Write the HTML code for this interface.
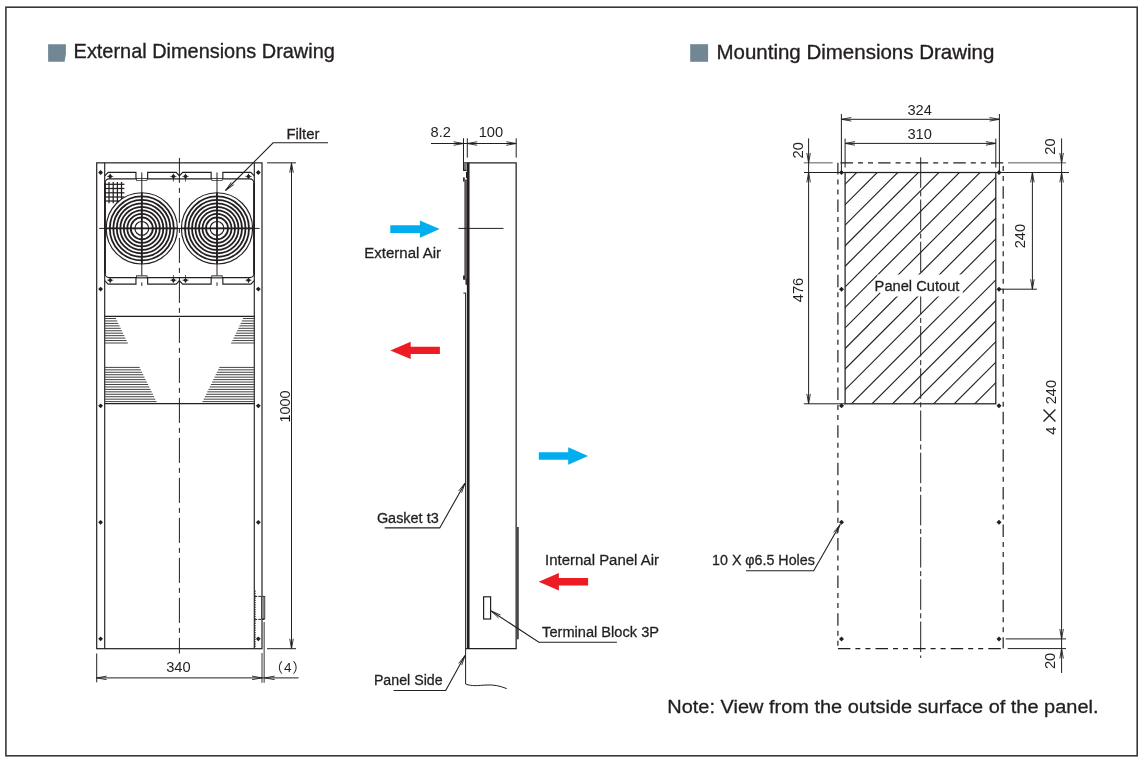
<!DOCTYPE html>
<html lang="en"><head><meta charset="utf-8"><title>Dimensions Drawing</title>
<style>
html,body{margin:0;padding:0;background:#fff;overflow:hidden;}
body{width:1142px;height:763px;overflow:hidden;}
svg{display:block;will-change:transform;}
text{fill:#231f20;}
.lb,.ti{font-family:"Liberation Sans","DejaVu Sans",sans-serif;stroke:#231f20;stroke-width:0.3px;}
.ti{stroke-width:0.35px;}
.dm{font-family:"Liberation Sans","DejaVu Sans",sans-serif;}
.cj{font-family:"Liberation Sans","Noto Sans CJK JP",sans-serif;}
.mx{font-family:"Noto Sans CJK JP","Liberation Sans",sans-serif;}
</style></head><body>
<svg width="1142" height="763" viewBox="0 0 1142 763">
<rect width="1142" height="763" fill="#fff"/>
<rect x="5.9" y="7.2" width="1131.3" height="748.6" fill="none" stroke="#3b3738" stroke-width="1.6"/>
<path d="M48.1,44.2H65.9V54L64.6,61.8H48.1Z" fill="#728795"/>
<rect x="690.2" y="44.2" width="17.9" height="17.6" fill="#728795"/>
<text x="73.60" y="57.60" font-size="20.8" class="ti" textLength="261.2" lengthAdjust="spacingAndGlyphs" >External Dimensions Drawing</text>
<text x="716.50" y="58.90" font-size="20.8" class="ti" textLength="277.8" lengthAdjust="spacingAndGlyphs" >Mounting Dimensions Drawing</text>
<rect x="96.7" y="162.85" width="165.30" height="485.85" fill="none" stroke="#231f20" stroke-width="1.2"/>
<line x1="104.70" y1="162.85" x2="104.70" y2="648.70" stroke="#231f20" stroke-width="1.15" />
<line x1="254.30" y1="162.85" x2="254.30" y2="648.70" stroke="#231f20" stroke-width="1.15" />
<line x1="179.40" y1="157.90" x2="179.40" y2="653.50" stroke="#231f20" stroke-width="1.0" stroke-dasharray="25 5 5 5"/>
<path d="M98.20,172.50 L100.60,170.10 L103.00,172.50 L100.60,174.90Z" fill="#231f20"/>
<path d="M255.90,172.50 L258.30,170.10 L260.70,172.50 L258.30,174.90Z" fill="#231f20"/>
<path d="M98.20,289.10 L100.60,286.70 L103.00,289.10 L100.60,291.50Z" fill="#231f20"/>
<path d="M255.90,289.10 L258.30,286.70 L260.70,289.10 L258.30,291.50Z" fill="#231f20"/>
<path d="M98.20,405.80 L100.60,403.40 L103.00,405.80 L100.60,408.20Z" fill="#231f20"/>
<path d="M255.90,405.80 L258.30,403.40 L260.70,405.80 L258.30,408.20Z" fill="#231f20"/>
<path d="M98.20,522.30 L100.60,519.90 L103.00,522.30 L100.60,524.70Z" fill="#231f20"/>
<path d="M255.90,522.30 L258.30,519.90 L260.70,522.30 L258.30,524.70Z" fill="#231f20"/>
<path d="M98.20,638.80 L100.60,636.40 L103.00,638.80 L100.60,641.20Z" fill="#231f20"/>
<path d="M255.90,638.80 L258.30,636.40 L260.70,638.80 L258.30,641.20Z" fill="#231f20"/>
<path d="M104.7,175.9 L108.2,172.4 H135.95000000000002 V178.9 M147.65,178.9 V172.4 H176.20000000000002 L179.4,176.0 L182.6,172.4 H211.15 V178.9 M222.85,178.9 V172.4 H250.8 L254.3,175.9" stroke="#231f20" stroke-width="1.15" fill="none" />
<path d="M104.7,280.6 L108.2,284.1 H135.95000000000002 V277.6 M147.65,277.6 V284.1 H176.20000000000002 L179.4,280.5 L182.6,284.1 H211.15 V277.6 M222.85,277.6 V284.1 H250.8 L254.3,280.6" stroke="#231f20" stroke-width="1.15" fill="none" />
<rect x="105.0" y="178.9" width="149.00" height="98.70" rx="4.2" fill="none" stroke="#231f20" stroke-width="1.25"/>
<line x1="105.00" y1="183.00" x2="105.00" y2="273.50" stroke="#231f20" stroke-width="1.6" />
<line x1="254.00" y1="183.00" x2="254.00" y2="273.50" stroke="#231f20" stroke-width="1.6" />
<rect x="136.55" y="178.40" width="10.50" height="2.0" fill="#fff" stroke="#231f20" stroke-width="0.7"/>
<rect x="136.55" y="275.80" width="10.50" height="2.0" fill="#ddd" stroke="#231f20" stroke-width="0.8"/>
<rect x="211.75" y="178.40" width="10.50" height="2.0" fill="#fff" stroke="#231f20" stroke-width="0.7"/>
<rect x="211.75" y="275.80" width="10.50" height="2.0" fill="#ddd" stroke="#231f20" stroke-width="0.8"/>
<path d="M107.90,176.40 L110.20,174.10 L112.50,176.40 L110.20,178.70Z" fill="#231f20"/>
<line x1="107.00" y1="176.40" x2="113.40" y2="176.40" stroke="#231f20" stroke-width="0.6" />
<line x1="110.20" y1="173.60" x2="110.20" y2="179.00" stroke="#231f20" stroke-width="0.7" />
<path d="M107.90,280.20 L110.20,277.90 L112.50,280.20 L110.20,282.50Z" fill="#231f20"/>
<line x1="107.00" y1="280.20" x2="113.40" y2="280.20" stroke="#231f20" stroke-width="0.6" />
<line x1="110.20" y1="277.60" x2="110.20" y2="283.00" stroke="#231f20" stroke-width="0.7" />
<path d="M171.10,176.40 L173.40,174.10 L175.70,176.40 L173.40,178.70Z" fill="#231f20"/>
<line x1="170.20" y1="176.40" x2="176.60" y2="176.40" stroke="#231f20" stroke-width="0.6" />
<line x1="173.40" y1="173.60" x2="173.40" y2="181.60" stroke="#231f20" stroke-width="0.7" />
<path d="M171.10,280.20 L173.40,277.90 L175.70,280.20 L173.40,282.50Z" fill="#231f20"/>
<line x1="170.20" y1="280.20" x2="176.60" y2="280.20" stroke="#231f20" stroke-width="0.6" />
<line x1="173.40" y1="275.00" x2="173.40" y2="283.00" stroke="#231f20" stroke-width="0.7" />
<path d="M183.20,176.40 L185.50,174.10 L187.80,176.40 L185.50,178.70Z" fill="#231f20"/>
<line x1="182.30" y1="176.40" x2="188.70" y2="176.40" stroke="#231f20" stroke-width="0.6" />
<line x1="185.50" y1="173.60" x2="185.50" y2="181.60" stroke="#231f20" stroke-width="0.7" />
<path d="M183.20,280.20 L185.50,277.90 L187.80,280.20 L185.50,282.50Z" fill="#231f20"/>
<line x1="182.30" y1="280.20" x2="188.70" y2="280.20" stroke="#231f20" stroke-width="0.6" />
<line x1="185.50" y1="275.00" x2="185.50" y2="283.00" stroke="#231f20" stroke-width="0.7" />
<path d="M246.20,176.40 L248.50,174.10 L250.80,176.40 L248.50,178.70Z" fill="#231f20"/>
<line x1="245.30" y1="176.40" x2="251.70" y2="176.40" stroke="#231f20" stroke-width="0.6" />
<line x1="248.50" y1="173.60" x2="248.50" y2="179.00" stroke="#231f20" stroke-width="0.7" />
<path d="M246.20,280.20 L248.50,277.90 L250.80,280.20 L248.50,282.50Z" fill="#231f20"/>
<line x1="245.30" y1="280.20" x2="251.70" y2="280.20" stroke="#231f20" stroke-width="0.6" />
<line x1="248.50" y1="277.60" x2="248.50" y2="283.00" stroke="#231f20" stroke-width="0.7" />
<line x1="109.00" y1="182.00" x2="109.00" y2="203.20" stroke="#231f20" stroke-width="1.25" />
<line x1="113.20" y1="182.00" x2="113.20" y2="203.20" stroke="#231f20" stroke-width="1.25" />
<line x1="117.40" y1="182.00" x2="117.40" y2="203.20" stroke="#231f20" stroke-width="1.25" />
<line x1="121.50" y1="182.00" x2="121.50" y2="203.20" stroke="#231f20" stroke-width="1.25" />
<line x1="104.70" y1="184.30" x2="124.40" y2="184.30" stroke="#231f20" stroke-width="1.25" />
<line x1="104.70" y1="188.50" x2="124.40" y2="188.50" stroke="#231f20" stroke-width="1.25" />
<line x1="104.70" y1="192.80" x2="124.40" y2="192.80" stroke="#231f20" stroke-width="1.25" />
<line x1="104.70" y1="197.00" x2="124.40" y2="197.00" stroke="#231f20" stroke-width="1.25" />
<line x1="104.70" y1="201.00" x2="124.40" y2="201.00" stroke="#231f20" stroke-width="1.25" />
<circle cx="141.8" cy="228.4" r="35.6" fill="#fff" stroke="#231f20" stroke-width="1.15"/>
<circle cx="141.8" cy="228.4" r="11.0" fill="none" stroke="#231f20" stroke-width="1.8"/>
<circle cx="141.8" cy="228.4" r="14.5" fill="none" stroke="#231f20" stroke-width="1.8"/>
<circle cx="141.8" cy="228.4" r="18.0" fill="none" stroke="#231f20" stroke-width="1.8"/>
<circle cx="141.8" cy="228.4" r="21.5" fill="none" stroke="#231f20" stroke-width="1.8"/>
<circle cx="141.8" cy="228.4" r="25.0" fill="none" stroke="#231f20" stroke-width="1.8"/>
<circle cx="141.8" cy="228.4" r="28.5" fill="none" stroke="#231f20" stroke-width="1.8"/>
<circle cx="141.8" cy="228.4" r="32.0" fill="none" stroke="#231f20" stroke-width="1.8"/>
<circle cx="141.8" cy="228.4" r="6.9" fill="none" stroke="#231f20" stroke-width="1.2"/>
<line x1="141.80" y1="172.40" x2="141.80" y2="275.60" stroke="#231f20" stroke-width="1.0" />
<line x1="141.80" y1="282.40" x2="141.80" y2="285.80" stroke="#231f20" stroke-width="1.0" />
<line x1="141.80" y1="192.80" x2="141.80" y2="264.00" stroke="#231f20" stroke-width="1.8" />
<line x1="106.20" y1="228.40" x2="177.40" y2="228.40" stroke="#231f20" stroke-width="1.8" />
<circle cx="217.0" cy="228.4" r="35.6" fill="#fff" stroke="#231f20" stroke-width="1.15"/>
<circle cx="217.0" cy="228.4" r="11.0" fill="none" stroke="#231f20" stroke-width="1.8"/>
<circle cx="217.0" cy="228.4" r="14.5" fill="none" stroke="#231f20" stroke-width="1.8"/>
<circle cx="217.0" cy="228.4" r="18.0" fill="none" stroke="#231f20" stroke-width="1.8"/>
<circle cx="217.0" cy="228.4" r="21.5" fill="none" stroke="#231f20" stroke-width="1.8"/>
<circle cx="217.0" cy="228.4" r="25.0" fill="none" stroke="#231f20" stroke-width="1.8"/>
<circle cx="217.0" cy="228.4" r="28.5" fill="none" stroke="#231f20" stroke-width="1.8"/>
<circle cx="217.0" cy="228.4" r="32.0" fill="none" stroke="#231f20" stroke-width="1.8"/>
<circle cx="217.0" cy="228.4" r="6.9" fill="none" stroke="#231f20" stroke-width="1.2"/>
<line x1="217.00" y1="172.40" x2="217.00" y2="275.60" stroke="#231f20" stroke-width="1.0" />
<line x1="217.00" y1="282.40" x2="217.00" y2="285.80" stroke="#231f20" stroke-width="1.0" />
<line x1="217.00" y1="192.80" x2="217.00" y2="264.00" stroke="#231f20" stroke-width="1.8" />
<line x1="181.40" y1="228.40" x2="252.60" y2="228.40" stroke="#231f20" stroke-width="1.8" />
<line x1="99.20" y1="228.40" x2="259.60" y2="228.40" stroke="#231f20" stroke-width="1.0" />
<line x1="104.70" y1="316.30" x2="254.30" y2="316.30" stroke="#231f20" stroke-width="1.15" />
<line x1="104.70" y1="403.60" x2="254.30" y2="403.60" stroke="#231f20" stroke-width="1.15" />
<line x1="104.70" y1="318.50" x2="116.00" y2="318.50" stroke="#444" stroke-width="1.0" />
<line x1="254.30" y1="318.50" x2="243.00" y2="318.50" stroke="#444" stroke-width="1.0" />
<line x1="104.70" y1="320.95" x2="117.18" y2="320.95" stroke="#444" stroke-width="1.0" />
<line x1="254.30" y1="320.95" x2="241.82" y2="320.95" stroke="#444" stroke-width="1.0" />
<line x1="104.70" y1="323.40" x2="118.36" y2="323.40" stroke="#444" stroke-width="1.0" />
<line x1="254.30" y1="323.40" x2="240.64" y2="323.40" stroke="#444" stroke-width="1.0" />
<line x1="104.70" y1="325.85" x2="119.54" y2="325.85" stroke="#444" stroke-width="1.0" />
<line x1="254.30" y1="325.85" x2="239.46" y2="325.85" stroke="#444" stroke-width="1.0" />
<line x1="104.70" y1="328.30" x2="120.72" y2="328.30" stroke="#444" stroke-width="1.0" />
<line x1="254.30" y1="328.30" x2="238.28" y2="328.30" stroke="#444" stroke-width="1.0" />
<line x1="104.70" y1="330.75" x2="121.90" y2="330.75" stroke="#444" stroke-width="1.0" />
<line x1="254.30" y1="330.75" x2="237.10" y2="330.75" stroke="#444" stroke-width="1.0" />
<line x1="104.70" y1="333.20" x2="123.08" y2="333.20" stroke="#444" stroke-width="1.0" />
<line x1="254.30" y1="333.20" x2="235.92" y2="333.20" stroke="#444" stroke-width="1.0" />
<line x1="104.70" y1="335.65" x2="124.26" y2="335.65" stroke="#444" stroke-width="1.0" />
<line x1="254.30" y1="335.65" x2="234.74" y2="335.65" stroke="#444" stroke-width="1.0" />
<line x1="104.70" y1="338.10" x2="125.44" y2="338.10" stroke="#444" stroke-width="1.0" />
<line x1="254.30" y1="338.10" x2="233.56" y2="338.10" stroke="#444" stroke-width="1.0" />
<line x1="104.70" y1="340.55" x2="126.62" y2="340.55" stroke="#444" stroke-width="1.0" />
<line x1="254.30" y1="340.55" x2="232.38" y2="340.55" stroke="#444" stroke-width="1.0" />
<line x1="104.70" y1="343.00" x2="127.80" y2="343.00" stroke="#444" stroke-width="1.0" />
<line x1="254.30" y1="343.00" x2="231.20" y2="343.00" stroke="#444" stroke-width="1.0" />
<line x1="104.70" y1="367.40" x2="139.70" y2="367.40" stroke="#444" stroke-width="1.0" />
<line x1="254.30" y1="367.40" x2="219.30" y2="367.40" stroke="#444" stroke-width="1.0" />
<line x1="104.70" y1="369.84" x2="140.90" y2="369.84" stroke="#444" stroke-width="1.0" />
<line x1="254.30" y1="369.84" x2="218.10" y2="369.84" stroke="#444" stroke-width="1.0" />
<line x1="104.70" y1="372.29" x2="142.10" y2="372.29" stroke="#444" stroke-width="1.0" />
<line x1="254.30" y1="372.29" x2="216.90" y2="372.29" stroke="#444" stroke-width="1.0" />
<line x1="104.70" y1="374.73" x2="143.30" y2="374.73" stroke="#444" stroke-width="1.0" />
<line x1="254.30" y1="374.73" x2="215.70" y2="374.73" stroke="#444" stroke-width="1.0" />
<line x1="104.70" y1="377.17" x2="144.50" y2="377.17" stroke="#444" stroke-width="1.0" />
<line x1="254.30" y1="377.17" x2="214.50" y2="377.17" stroke="#444" stroke-width="1.0" />
<line x1="104.70" y1="379.61" x2="145.70" y2="379.61" stroke="#444" stroke-width="1.0" />
<line x1="254.30" y1="379.61" x2="213.30" y2="379.61" stroke="#444" stroke-width="1.0" />
<line x1="104.70" y1="382.06" x2="146.90" y2="382.06" stroke="#444" stroke-width="1.0" />
<line x1="254.30" y1="382.06" x2="212.10" y2="382.06" stroke="#444" stroke-width="1.0" />
<line x1="104.70" y1="384.50" x2="148.10" y2="384.50" stroke="#444" stroke-width="1.0" />
<line x1="254.30" y1="384.50" x2="210.90" y2="384.50" stroke="#444" stroke-width="1.0" />
<line x1="104.70" y1="386.94" x2="149.30" y2="386.94" stroke="#444" stroke-width="1.0" />
<line x1="254.30" y1="386.94" x2="209.70" y2="386.94" stroke="#444" stroke-width="1.0" />
<line x1="104.70" y1="389.39" x2="150.50" y2="389.39" stroke="#444" stroke-width="1.0" />
<line x1="254.30" y1="389.39" x2="208.50" y2="389.39" stroke="#444" stroke-width="1.0" />
<line x1="104.70" y1="391.83" x2="151.70" y2="391.83" stroke="#444" stroke-width="1.0" />
<line x1="254.30" y1="391.83" x2="207.30" y2="391.83" stroke="#444" stroke-width="1.0" />
<line x1="104.70" y1="394.27" x2="152.90" y2="394.27" stroke="#444" stroke-width="1.0" />
<line x1="254.30" y1="394.27" x2="206.10" y2="394.27" stroke="#444" stroke-width="1.0" />
<line x1="104.70" y1="396.71" x2="154.10" y2="396.71" stroke="#444" stroke-width="1.0" />
<line x1="254.30" y1="396.71" x2="204.90" y2="396.71" stroke="#444" stroke-width="1.0" />
<line x1="104.70" y1="399.16" x2="155.30" y2="399.16" stroke="#444" stroke-width="1.0" />
<line x1="254.30" y1="399.16" x2="203.70" y2="399.16" stroke="#444" stroke-width="1.0" />
<line x1="104.70" y1="401.60" x2="156.50" y2="401.60" stroke="#444" stroke-width="1.0" />
<line x1="254.30" y1="401.60" x2="202.50" y2="401.60" stroke="#444" stroke-width="1.0" />
<line x1="254.60" y1="596.40" x2="264.80" y2="596.40" stroke="#231f20" stroke-width="1.0" stroke-dasharray="2.6 1.1"/>
<line x1="254.60" y1="619.40" x2="264.80" y2="619.40" stroke="#231f20" stroke-width="1.0" stroke-dasharray="2.6 1.1"/>
<rect x="261.6" y="596.4" width="3.2" height="22.3" fill="#8a8788" stroke="#3a3637" stroke-width="0.8"/>
<line x1="255.20" y1="590.50" x2="255.20" y2="648.00" stroke="#231f20" stroke-width="0.9" stroke-dasharray="1.3 1.0"/>
<line x1="262.00" y1="653.00" x2="262.00" y2="682.70" stroke="#7a7778" stroke-width="1.5" />
<line x1="264.20" y1="621.90" x2="264.20" y2="682.70" stroke="#7a7778" stroke-width="1.5" />
<line x1="267.00" y1="162.85" x2="296.00" y2="162.85" stroke="#231f20" stroke-width="1.0" />
<line x1="267.00" y1="648.70" x2="296.00" y2="648.70" stroke="#231f20" stroke-width="1.0" />
<line x1="291.50" y1="162.85" x2="291.50" y2="648.70" stroke="#231f20" stroke-width="1.0" />
<polyline points="293.25,172.75 291.50,162.85 289.75,172.75" fill="none" stroke="#231f20" stroke-width="0.9"/>
<polyline points="289.75,638.80 291.50,648.70 293.25,638.80" fill="none" stroke="#231f20" stroke-width="0.9"/>
<text x="290.00" y="406.40" font-size="15.3" class="dm" text-anchor="middle" textLength="32.0" lengthAdjust="spacingAndGlyphs" transform="rotate(-90 290.00 406.40)" >1000</text>
<line x1="96.70" y1="653.50" x2="96.70" y2="682.30" stroke="#231f20" stroke-width="1.0" />
<line x1="96.70" y1="677.90" x2="298.60" y2="677.90" stroke="#231f20" stroke-width="1.0" />
<polyline points="106.60,676.15 96.70,677.90 106.60,679.65" fill="none" stroke="#231f20" stroke-width="0.9"/>
<polyline points="252.10,679.65 262.00,677.90 252.10,676.15" fill="none" stroke="#231f20" stroke-width="0.9"/>
<polyline points="274.70,676.15 264.80,677.90 274.70,679.65" fill="none" stroke="#231f20" stroke-width="0.9"/>
<text x="178.40" y="672.40" font-size="15.3" class="dm" text-anchor="middle" textLength="24.5" lengthAdjust="spacingAndGlyphs" >340</text>
<text x="288.30" y="671.90" font-size="13.5" class="cj" text-anchor="middle" letter-spacing="1.1">（4）</text>
<text x="286.40" y="138.90" font-size="15.5" class="lb" textLength="33.1" lengthAdjust="spacingAndGlyphs" >Filter</text>
<path d="M328,142.8 H273.1 L225.5,190.5" stroke="#231f20" stroke-width="1.1" fill="none" />
<polyline points="231.25,182.26 225.50,190.50 233.73,184.73" fill="none" stroke="#231f20" stroke-width="0.9"/>
<path d="M463.4,162.85 H516.15 V648.7 H465.6" stroke="#231f20" stroke-width="1.25" fill="none" />
<line x1="468.20" y1="162.85" x2="468.20" y2="648.70" stroke="#231f20" stroke-width="2.7" />
<rect x="463.1" y="162.85" width="3.6" height="8.0" fill="#777" stroke="none"/>
<line x1="463.50" y1="162.65" x2="463.50" y2="170.60" stroke="#231f20" stroke-width="1.0" />
<path d="M463.1,170.4 H466.5" stroke="#231f20" stroke-width="1.0" fill="none" />
<rect x="463.1" y="177.4" width="1.6" height="4.2" fill="#231f20"/>
<rect x="466.0" y="172" width="1.0" height="6" fill="#231f20"/>
<rect x="464.3" y="179.5" width="2.7" height="100" fill="#5d595a"/>
<rect x="463.1" y="275.5" width="1.8" height="4.2" fill="#231f20"/>
<rect x="465.5" y="279" width="1.4" height="5.8" fill="#231f20"/>
<path d="M463.4,293.1 H466 " stroke="#231f20" stroke-width="1.0" fill="none" />
<line x1="465.60" y1="293.10" x2="465.60" y2="648.70" stroke="#231f20" stroke-width="1.0" />
<line x1="463.50" y1="138.30" x2="463.50" y2="162.85" stroke="#231f20" stroke-width="1.0" />
<line x1="467.30" y1="138.30" x2="467.30" y2="157.60" stroke="#231f20" stroke-width="1.0" />
<line x1="516.20" y1="138.30" x2="516.20" y2="157.60" stroke="#231f20" stroke-width="1.0" />
<line x1="431.00" y1="143.50" x2="516.20" y2="143.50" stroke="#231f20" stroke-width="1.0" />
<polyline points="453.60,145.25 463.50,143.50 453.60,141.75" fill="none" stroke="#231f20" stroke-width="0.9"/>
<polyline points="477.20,141.75 467.30,143.50 477.20,145.25" fill="none" stroke="#231f20" stroke-width="0.9"/>
<polyline points="506.30,145.25 516.20,143.50 506.30,141.75" fill="none" stroke="#231f20" stroke-width="0.9"/>
<text x="440.80" y="136.90" font-size="15.3" class="dm" text-anchor="middle" textLength="20.4" lengthAdjust="spacingAndGlyphs" >8.2</text>
<text x="490.90" y="136.90" font-size="15.3" class="dm" text-anchor="middle" textLength="24.5" lengthAdjust="spacingAndGlyphs" >100</text>
<line x1="458.40" y1="228.40" x2="503.50" y2="228.40" stroke="#231f20" stroke-width="1.0" />
<line x1="517.80" y1="527.00" x2="517.80" y2="639.30" stroke="#4a4647" stroke-width="2.0" />
<rect x="483.6" y="596.8" width="7" height="22.2" fill="#fff" stroke="#231f20" stroke-width="1.2"/>
<path d="M616.9,642.3 H538.9 L491.2,611" stroke="#231f20" stroke-width="1.1" fill="none" />
<polyline points="500.44,614.97 491.20,611.00 498.52,617.89" fill="none" stroke="#231f20" stroke-width="0.9"/>
<text x="542.10" y="636.90" font-size="15.5" class="lb" textLength="116.9" lengthAdjust="spacingAndGlyphs" >Terminal Block 3P</text>
<path d="M465.6,648.7 V684 C472,686.5 478,685.5 486,685 C494,684.5 500,686 506.7,688.6" stroke="#231f20" stroke-width="1.0" fill="none" />
<path d="M393.6,690.5 H445.7 L465,655.6" stroke="#231f20" stroke-width="1.1" fill="none" />
<polyline points="461.74,665.11 465.00,655.60 458.68,663.42" fill="none" stroke="#231f20" stroke-width="0.9"/>
<text x="373.90" y="685.40" font-size="15.5" class="lb" textLength="68.7" lengthAdjust="spacingAndGlyphs" >Panel Side</text>
<path d="M384.7,527.9 H439.7 L465,483.2" stroke="#231f20" stroke-width="1.1" fill="none" />
<polyline points="461.65,492.68 465.00,483.20 458.60,490.95" fill="none" stroke="#231f20" stroke-width="0.9"/>
<text x="376.90" y="522.60" font-size="15.5" class="lb" textLength="61.8" lengthAdjust="spacingAndGlyphs" >Gasket t3</text>
<path d="M390.3,225.29999999999998 H419.9 V220.4 L439.7,229.1 L419.9,237.79999999999998 V232.9 H390.3Z" fill="#00aeef"/>
<path d="M439.9,346.79999999999995 H410.7 V341.79999999999995 L390.3,350.4 L410.7,359.0 V354.0 H439.9Z" fill="#ed1c24"/>
<path d="M538.8,452.25 H568.2 V447.25 L588.1,456.05 L568.2,464.85 V459.85 H538.8Z" fill="#00aeef"/>
<path d="M588.1,578.05 H558.9 V573.05 L538.7,581.8 L558.9,590.55 V585.55 H588.1Z" fill="#ed1c24"/>
<text x="364.30" y="258.00" font-size="15.5" class="lb" textLength="76.8" lengthAdjust="spacingAndGlyphs" >External Air</text>
<text x="545.10" y="565.40" font-size="15.5" class="lb" textLength="113.9" lengthAdjust="spacingAndGlyphs" >Internal Panel Air</text>
<clipPath id="hc"><rect x="845.1" y="172.5" width="150.70" height="231.30"/></clipPath>
<g clip-path="url(#hc)">
<line x1="843.10" y1="186.10" x2="997.80" y2="31.40" stroke="#231f20" stroke-width="1.15" />
<line x1="843.10" y1="206.65" x2="997.80" y2="51.95" stroke="#231f20" stroke-width="1.15" />
<line x1="843.10" y1="227.20" x2="997.80" y2="72.50" stroke="#231f20" stroke-width="1.15" />
<line x1="843.10" y1="247.75" x2="997.80" y2="93.05" stroke="#231f20" stroke-width="1.15" />
<line x1="843.10" y1="268.30" x2="997.80" y2="113.60" stroke="#231f20" stroke-width="1.15" />
<line x1="843.10" y1="288.85" x2="997.80" y2="134.15" stroke="#231f20" stroke-width="1.15" />
<line x1="843.10" y1="309.40" x2="997.80" y2="154.70" stroke="#231f20" stroke-width="1.15" />
<line x1="843.10" y1="329.95" x2="997.80" y2="175.25" stroke="#231f20" stroke-width="1.15" />
<line x1="843.10" y1="350.50" x2="997.80" y2="195.80" stroke="#231f20" stroke-width="1.15" />
<line x1="843.10" y1="371.05" x2="997.80" y2="216.35" stroke="#231f20" stroke-width="1.15" />
<line x1="843.10" y1="391.60" x2="997.80" y2="236.90" stroke="#231f20" stroke-width="1.15" />
<line x1="843.10" y1="412.15" x2="997.80" y2="257.45" stroke="#231f20" stroke-width="1.15" />
<line x1="843.10" y1="432.70" x2="997.80" y2="278.00" stroke="#231f20" stroke-width="1.15" />
<line x1="843.10" y1="453.25" x2="997.80" y2="298.55" stroke="#231f20" stroke-width="1.15" />
<line x1="843.10" y1="473.80" x2="997.80" y2="319.10" stroke="#231f20" stroke-width="1.15" />
<line x1="843.10" y1="494.35" x2="997.80" y2="339.65" stroke="#231f20" stroke-width="1.15" />
<line x1="843.10" y1="514.90" x2="997.80" y2="360.20" stroke="#231f20" stroke-width="1.15" />
<line x1="843.10" y1="535.45" x2="997.80" y2="380.75" stroke="#231f20" stroke-width="1.15" />
<line x1="843.10" y1="556.00" x2="997.80" y2="401.30" stroke="#231f20" stroke-width="1.15" />
</g>
<rect x="845.1" y="172.5" width="150.70" height="231.30" fill="none" stroke="#231f20" stroke-width="1.25"/>
<line x1="840.50" y1="162.85" x2="1003.20" y2="162.85" stroke="#231f20" stroke-width="1.2" stroke-dasharray="12.5 5 5 5 5 5.1"/>
<line x1="837.90" y1="162.85" x2="837.90" y2="648.60" stroke="#231f20" stroke-width="1.2" stroke-dasharray="12.5 5 5 5 5 5.1" stroke-dashoffset="0.9"/>
<line x1="1003.20" y1="162.85" x2="1003.20" y2="648.60" stroke="#231f20" stroke-width="1.2" stroke-dasharray="12.5 5 5 5 5 5.1" stroke-dashoffset="14.3"/>
<line x1="837.90" y1="648.60" x2="1003.20" y2="648.60" stroke="#231f20" stroke-width="1.2" stroke-dasharray="12.5 5 5 5 5 5.1"/>
<line x1="920.70" y1="157.30" x2="920.70" y2="658.00" stroke="#231f20" stroke-width="1.0" stroke-dasharray="30.5 3.5 5 3.2"/>
<path d="M877.3,274.5H962.8V296.5H884L877.3,290Z" fill="#fff"/>
<text x="874.60" y="290.60" font-size="15.5" class="lb" textLength="84.8" lengthAdjust="spacingAndGlyphs" >Panel Cutout</text>
<path d="M839.00,172.50 L841.50,170.00 L844.00,172.50 L841.50,175.00Z" fill="#231f20"/>
<path d="M996.50,172.50 L999.00,170.00 L1001.50,172.50 L999.00,175.00Z" fill="#231f20"/>
<path d="M839.00,289.15 L841.50,286.65 L844.00,289.15 L841.50,291.65Z" fill="#231f20"/>
<path d="M996.50,289.15 L999.00,286.65 L1001.50,289.15 L999.00,291.65Z" fill="#231f20"/>
<path d="M839.00,405.70 L841.50,403.20 L844.00,405.70 L841.50,408.20Z" fill="#231f20"/>
<path d="M996.50,405.70 L999.00,403.20 L1001.50,405.70 L999.00,408.20Z" fill="#231f20"/>
<path d="M839.00,522.30 L841.50,519.80 L844.00,522.30 L841.50,524.80Z" fill="#231f20"/>
<path d="M996.50,522.30 L999.00,519.80 L1001.50,522.30 L999.00,524.80Z" fill="#231f20"/>
<path d="M839.00,638.90 L841.50,636.40 L844.00,638.90 L841.50,641.40Z" fill="#231f20"/>
<path d="M996.50,638.90 L999.00,636.40 L1001.50,638.90 L999.00,641.40Z" fill="#231f20"/>
<line x1="841.40" y1="114.00" x2="841.40" y2="172.50" stroke="#231f20" stroke-width="1.0" />
<line x1="999.40" y1="114.00" x2="999.40" y2="172.50" stroke="#231f20" stroke-width="1.0" />
<line x1="841.40" y1="119.30" x2="999.40" y2="119.30" stroke="#231f20" stroke-width="1.0" />
<polyline points="851.30,117.55 841.40,119.30 851.30,121.05" fill="none" stroke="#231f20" stroke-width="0.9"/>
<polyline points="989.50,121.05 999.40,119.30 989.50,117.55" fill="none" stroke="#231f20" stroke-width="0.9"/>
<line x1="845.10" y1="138.60" x2="845.10" y2="167.50" stroke="#231f20" stroke-width="1.0" />
<line x1="995.80" y1="138.60" x2="995.80" y2="167.50" stroke="#231f20" stroke-width="1.0" />
<line x1="845.10" y1="143.40" x2="995.80" y2="143.40" stroke="#231f20" stroke-width="1.0" />
<polyline points="855.00,141.65 845.10,143.40 855.00,145.15" fill="none" stroke="#231f20" stroke-width="0.9"/>
<polyline points="985.90,145.15 995.80,143.40 985.90,141.65" fill="none" stroke="#231f20" stroke-width="0.9"/>
<text x="919.70" y="115.00" font-size="15.3" class="dm" text-anchor="middle" textLength="24.5" lengthAdjust="spacingAndGlyphs" >324</text>
<text x="919.70" y="139.20" font-size="15.3" class="dm" text-anchor="middle" textLength="24.5" lengthAdjust="spacingAndGlyphs" >310</text>
<line x1="803.80" y1="162.85" x2="832.70" y2="162.85" stroke="#5a5657" stroke-width="1.0" />
<line x1="1008.00" y1="162.85" x2="1066.00" y2="162.85" stroke="#5a5657" stroke-width="1.0" />
<line x1="804.00" y1="172.50" x2="1069.00" y2="172.50" stroke="#231f20" stroke-width="1.0" />
<line x1="808.60" y1="138.40" x2="808.60" y2="403.80" stroke="#231f20" stroke-width="1.0" />
<polyline points="806.85,152.95 808.60,162.85 810.35,152.95" fill="none" stroke="#231f20" stroke-width="0.9"/>
<polyline points="810.35,182.40 808.60,172.50 806.85,182.40" fill="none" stroke="#231f20" stroke-width="0.9"/>
<polyline points="806.85,393.90 808.60,403.80 810.35,393.90" fill="none" stroke="#231f20" stroke-width="0.9"/>
<line x1="803.80" y1="403.80" x2="845.10" y2="403.80" stroke="#231f20" stroke-width="1.0" />
<text x="802.60" y="150.30" font-size="15.3" class="dm" text-anchor="middle" textLength="16.3" lengthAdjust="spacingAndGlyphs" transform="rotate(-90 802.60 150.30)" >20</text>
<text x="803.20" y="290.00" font-size="15.3" class="dm" text-anchor="middle" textLength="24.5" lengthAdjust="spacingAndGlyphs" transform="rotate(-90 803.20 290.00)" >476</text>
<line x1="1032.40" y1="172.50" x2="1032.40" y2="289.20" stroke="#231f20" stroke-width="1.0" />
<polyline points="1034.15,182.40 1032.40,172.50 1030.65,182.40" fill="none" stroke="#231f20" stroke-width="0.9"/>
<polyline points="1030.65,279.30 1032.40,289.20 1034.15,279.30" fill="none" stroke="#231f20" stroke-width="0.9"/>
<line x1="999.40" y1="289.20" x2="1036.90" y2="289.20" stroke="#231f20" stroke-width="1.0" />
<text x="1025.00" y="236.05" font-size="15.3" class="dm" text-anchor="middle" textLength="24.5" lengthAdjust="spacingAndGlyphs" transform="rotate(-90 1025.00 236.05)" >240</text>
<line x1="1061.60" y1="138.40" x2="1061.60" y2="673.00" stroke="#231f20" stroke-width="1.0" />
<polyline points="1059.85,152.95 1061.60,162.85 1063.35,152.95" fill="none" stroke="#231f20" stroke-width="0.9"/>
<polyline points="1063.35,182.40 1061.60,172.50 1059.85,182.40" fill="none" stroke="#231f20" stroke-width="0.9"/>
<polyline points="1059.85,629.00 1061.60,638.90 1063.35,629.00" fill="none" stroke="#231f20" stroke-width="0.9"/>
<polyline points="1063.35,658.50 1061.60,648.60 1059.85,658.50" fill="none" stroke="#231f20" stroke-width="0.9"/>
<line x1="1005.70" y1="638.90" x2="1066.00" y2="638.90" stroke="#231f20" stroke-width="1.0" />
<line x1="1007.70" y1="648.60" x2="1066.00" y2="648.60" stroke="#231f20" stroke-width="1.0" />
<text x="1055.40" y="146.60" font-size="15.3" class="dm" text-anchor="middle" textLength="16.3" lengthAdjust="spacingAndGlyphs" transform="rotate(-90 1055.40 146.60)" >20</text>
<text x="1055.40" y="660.90" font-size="15.3" class="dm" text-anchor="middle" textLength="16.3" lengthAdjust="spacingAndGlyphs" transform="rotate(-90 1055.40 660.90)" >20</text>
<text x="1055.7" y="434.8" font-size="15.3" class="dm" transform="rotate(-90 1055.7 434.8)"><tspan textLength="8.2" lengthAdjust="spacingAndGlyphs">4</tspan><tspan class="mx" font-size="20" x="1065.0" dy="1.6">×</tspan><tspan x="1086.2" dy="-1.6" textLength="24.5" lengthAdjust="spacingAndGlyphs">240</tspan></text>
<path d="M746,570.7 H813.7 L840.1,524.6" stroke="#231f20" stroke-width="1.1" fill="none" />
<polyline points="836.70,534.06 840.10,524.60 833.66,532.32" fill="none" stroke="#231f20" stroke-width="0.9"/>
<text x="712.10" y="564.50" font-size="15.5" class="lb" textLength="102.7" lengthAdjust="spacingAndGlyphs" >10 X φ6.5 Holes</text>
<text x="667.30" y="713.40" font-size="19.2" class="lb" textLength="431.2" lengthAdjust="spacingAndGlyphs" >Note: View from the outside surface of the panel.</text>
</svg>
</body></html>
